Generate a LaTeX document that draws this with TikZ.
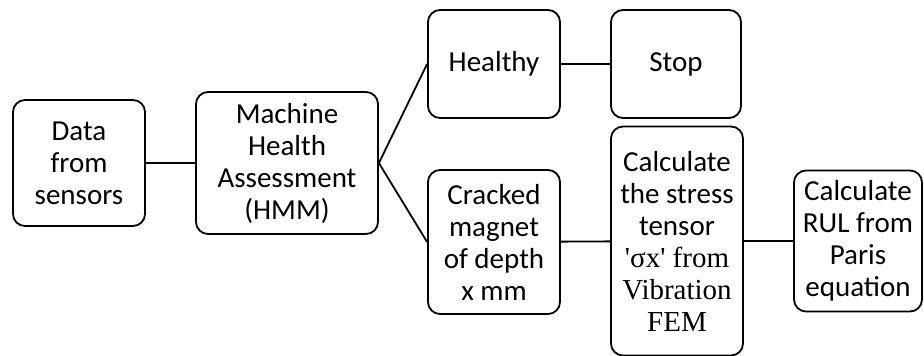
\documentclass[tikz,border=0pt]{standalone}
\usepackage{fontspec}
\setmainfont{Carlito}
\newfontfamily\serifpart{Liberation Serif}
\begin{document}
\begin{tikzpicture}[x=1pt,y=-1pt,
  blk/.style={draw,line width=1.8pt,rounded corners=12pt,align=center,inner sep=0pt,
    font=\fontsize{29}{32}\selectfont},
  link/.style={line width=1.8pt}]
\useasboundingbox (0,0) rectangle (924,356);
% boxes
\node[blk,minimum width=132,minimum height=126] (data) at (79,163) {Data\\from\\sensors};
\node[blk,minimum width=182,minimum height=142] (mha) at (287,163) {Machine\\Health\\Assessment\\(HMM)};
\node[blk,minimum width=132,minimum height=108] (healthy) at (494,64) {Healthy};
\node[blk,minimum width=130,minimum height=108] (stop) at (676,64) {Stop};
\node[blk,minimum width=132,minimum height=144] (crack) at (494,242) {Cracked\\magnet\\of depth\\x mm};
\node[blk,minimum width=132,minimum height=229] (stress) at (677,241) {Calculate\\the stress\\tensor\\{\serifpart 'σx' from}\\{\serifpart Vibration}\\{\serifpart FEM}};
\node[blk,minimum width=128,minimum height=141] (rul) at (858,241) {Calculate\\RUL from\\Paris\\equation};
% connectors
\draw[link] (data) -- (mha);
\draw[link] (mha.east) -- (healthy.west);
\draw[link] (mha.east) -- (crack.west);
\draw[link] (healthy) -- (stop);
\draw[link] (crack) -- (stress);
\draw[link] (stress) -- (rul);
\end{tikzpicture}
\end{document}
